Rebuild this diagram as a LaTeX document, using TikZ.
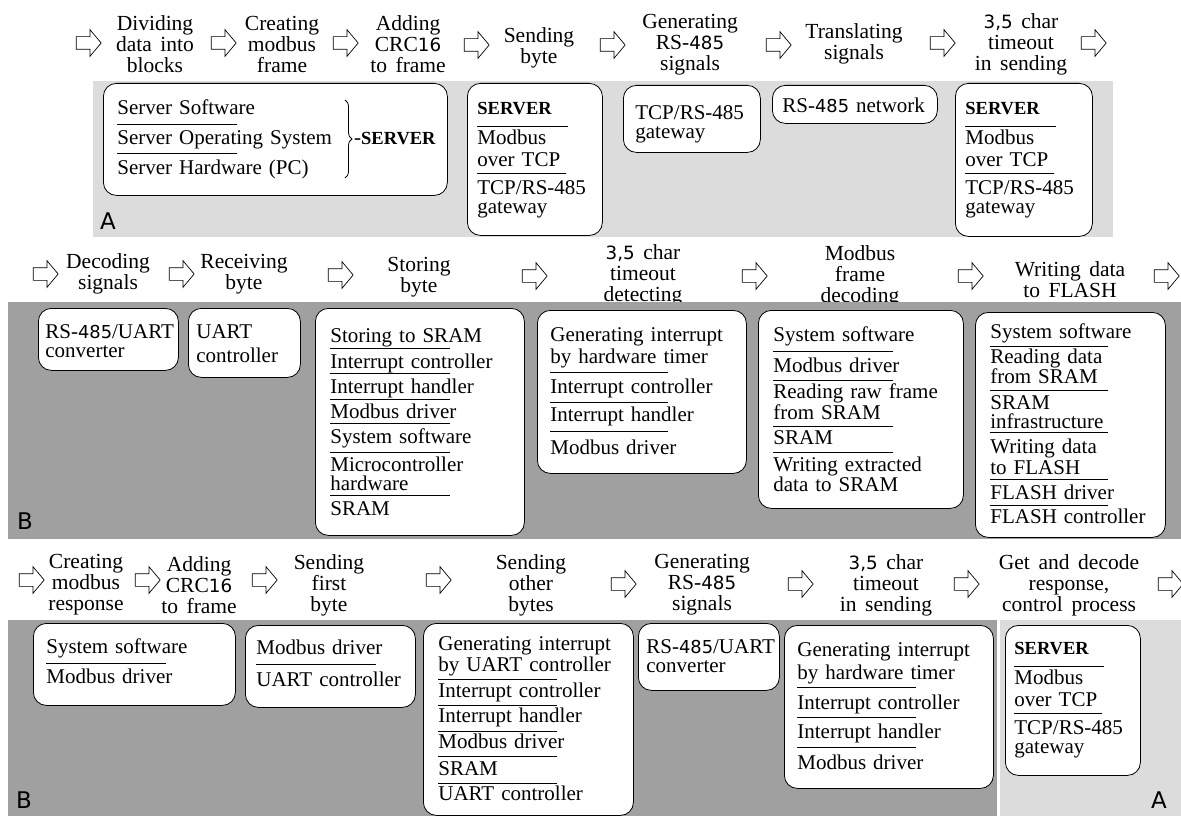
\documentclass[tikz,border=0pt]{standalone}
\usepackage{fontspec}
\setmainfont{Liberation Serif}[WordSpace=1.6]
\setsansfont{DejaVu Sans}[Scale=0.85]
\usepackage{tikz}
\usetikzlibrary{shapes.arrows, decorations.pathreplacing}
\definecolor{dotgray}{HTML}{DCDCDC}
\definecolor{midgray}{HTML}{A0A0A0}
\newcommand{\ul}[2][7]{\leavevmode\smash{\rlap{\rule[-#1pt]{#2pt}{0.7pt}}}}
\newcommand{\sn}[1]{{\sffamily #1}}
\newcommand{\srv}{{\fontsize{18.5}{20}\selectfont\bfseries SERVER}}
\newcommand{\nobrk}{\rightskip=0pt plus 1fil minus 200pt\relax}

\tikzset{
  flow/.style={single arrow, draw, fill=white, line width=0.7pt, minimum height=25pt,
    inner sep=6pt, single arrow head extend=7pt, single arrow tip angle=100},
  lbl/.style={align=center, inner sep=0pt, font=\fontsize{21.5}{21}\selectfont},
  box/.style={draw, fill=white, line width=0.8pt, rounded corners=13pt, anchor=north west,
    align=left, inner ysep=0pt, font=\fontsize{21}{20}\selectfont, execute at begin node=\nobrk},
  brc/.style={decorate, decoration={brace, amplitude=7pt}, line width=0.8pt},
  tag/.style={inner sep=0pt, font=\sffamily\fontsize{27}{27}\selectfont}
}

\begin{document}
\begin{tikzpicture}[x=1pt, y=-1pt]
\useasboundingbox (0,0) rectangle (1181,816);

\node[lbl] (dividing) at (155,44) {Dividing\\data into\\blocks};
\node[lbl] (creating) at (282,44) {Creating\\modbus\\frame};
\node[lbl] (adding) at (408,44) {Adding\\CRC\sn{16}\\to frame};
\node[lbl] (sending) at (539,48) {Sending\\byte};
\node[lbl] (generating) at (690,45) {Generating\\RS-\sn{485}\\signals};
\node[lbl] (translating) at (854,44) {Translating\\signals};
\node[lbl] (timeout) at (1021,44) {\sn{3,5} char\\timeout\\in sending};

\node[lbl] (decoding) at (108,274) {Decoding\\signals};
\node[lbl] (receiving) at (244,274) {Receiving\\byte};
\node[lbl] (storing) at (419,277) {Storing\\byte};
\node[lbl] (detecting) at (643,275) {\sn{3,5} char\\timeout\\detecting};
\node[lbl] (framedec) at (860,276) {Modbus\\frame\\decoding};
\node[lbl] (writing) at (1070,280) {Writing data\\to FLASH};

\node[lbl] (response) at (86,585) {Creating\\modbus\\response};
\node[lbl] (addingb) at (199,585) {Adding\\CRC\sn{16}\\to frame};
\node[lbl] (firstbyte) at (329,585) {Sending\\first\\byte};
\node[lbl] (otherbytes) at (531,585) {Sending\\other\\bytes};
\node[lbl] (generatingb) at (702,585) {Generating\\RS-\sn{485}\\signals};
\node[lbl] (timeoutb) at (886,585) {\sn{3,5} char\\timeout\\in sending};
\node[lbl] (getdecode) at (1069,585) {Get and decode\\response,\\control process};

\node[flow] (p1) at (86,43) {};
\node[flow] (p2) at (221,43) {};
\node[flow] (p3) at (343,43) {};
\node[flow] (p4) at (474,45) {};
\node[flow] (p5) at (610,45) {};
\node[flow] (p6) at (776,45) {};
\node[flow] (p7) at (940,43) {};
\node[flow] (p8) at (1091,43) {};

\node[flow] (q1) at (43,274) {};
\node[flow] (q2) at (179,274) {};
\node[flow] (q3) at (338,275) {};
\node[flow] (q4) at (532,276) {};
\node[flow] (q5) at (752,276) {};
\node[flow] (q6) at (968,276) {};
\node[flow] (q7) at (1164,276) {};

\node[flow] (r1) at (29,580) {};
\node[flow] (r2) at (145,580) {};
\node[flow] (r3) at (262,580) {};
\node[flow] (r4) at (436,580) {};
\node[flow] (r5) at (621,584) {};
\node[flow] (r6) at (798,584) {};
\node[flow] (r7) at (964,584) {};
\node[flow] (r8) at (1168,584) {};

\fill[dotgray] (93,81) rectangle (1113,237);
\fill[midgray] (8,302) rectangle (1181,539);
\fill[midgray] (8,620) rectangle (997,816);
\fill[dotgray] (1000,620) rectangle (1181,816);

\node[box, inner xsep=14pt, text width=316pt, text height=31pt, text depth=81pt] (srvstack) at (103,83) {
  \ul[10]{120}Server Software\\[10pt]
  \ul[9]{120}Server Operating System\\[10pt]
  Server Hardware (PC)};
\coordinate (brtop) at (345,100);
\coordinate (brbot) at (345,178);
\draw[brc] (brtop) -- (brbot);
\node[anchor=west, inner sep=0pt, font=\fontsize{21}{20}\selectfont] (srvtag) at (354,139) {-\srv};

\node[box, inner xsep=10pt, text width=115pt, text height=31pt, text depth=121pt] (server1) at (467,83) {
  \ul[12]{91}\srv\\[10pt]
  Modbus\\[2pt]
  \ul[7]{89}over TCP\\[8pt]
  TCP/RS-485\\[-1pt]
  gateway};
\node[box, inner xsep=12pt, text width=113pt, text height=34pt, text depth=33pt] (gateway1) at (623,85) {
  TCP/RS-485\\[-1pt]
  gateway};
\node[box, inner xsep=10pt, text width=145pt, text height=27pt, text depth=11pt] (network) at (772,85) {
  RS-\sn{485} network};
\node[box, inner xsep=10pt, text width=117pt, text height=31pt, text depth=122pt] (server2) at (955,83) {
  \ul[12]{91}\srv\\[10pt]
  Modbus\\[2pt]
  \ul[7]{89}over TCP\\[8pt]
  TCP/RS-485\\[-1pt]
  gateway};
\node[tag] (tagA1) at (108,221) {A};

\node[box, inner xsep=7pt, text width=126pt, text height=30pt, text depth=32pt] (conv1) at (38,308) {
  RS-\sn{485}/UART\\[-1pt]
  converter};
\node[box, inner xsep=8pt, text width=96pt, text height=30pt, text depth=39pt] (uart1) at (188,308) {
  UART\\[4pt]
  controller};
\node[box, inner xsep=15pt, text width=179pt, text height=34pt, text depth=193pt] (store) at (315,308) {
  \ul[6]{120}Storing to SRAM\\[6pt]
  \ul[5]{120}Interrupt controller\\[5pt]
  \ul[6]{120}Interrupt handler\\[5pt]
  \ul[5]{120}Modbus driver\\[5pt]
  \ul[9]{120}System software\\[8pt]
  Microcontroller\\[-1pt]
  \ul[5]{120}hardware\\[5pt]
  SRAM};
\node[box, inner xsep=13pt, text width=183pt, text height=31pt, text depth=132pt] (detect) at (537,310) {
  Generating interrupt\\[2pt]
  \ul[9]{118}by hardware timer\\[10pt]
  \ul[9]{118}Interrupt controller\\[8pt]
  \ul[10]{118}Interrupt handler\\[13pt]
  Modbus driver};
\node[box, inner xsep=15pt, text width=175pt, text height=31pt, text depth=167pt] (decode) at (758,310) {
  \ul[10]{120}System software\\[11pt]
  \ul[8]{120}Modbus driver\\[6pt]
  Reading raw frame\\[1pt]
  \ul[7]{120}from SRAM\\[5pt]
  \ul[8]{120}SRAM\\[7pt]
  Writing extracted\\
  data to SRAM};
\node[box, inner xsep=15pt, text width=160pt, text height=26pt, text depth=199pt] (flash) at (975,312) {
  \ul[8]{118}System software\\[5pt]
  Reading data\\
  \ul[7]{118}from SRAM\\[6pt]
  SRAM\\[-1pt]
  \ul[4]{118}infrastructure\\[5pt]
  Writing data\\[1pt]
  \ul[5]{118}to FLASH\\[5pt]
  \ul[6]{118}FLASH driver\\[4pt]
  FLASH controller};
\node[tag] (tagB2) at (25,521) {B};

\node[box, inner xsep=13pt, text width=176pt, text height=30pt, text depth=52pt] (syssw) at (33,623) {
  \ul[10]{120}System software\\[10pt]
  Modbus driver};
\node[box, inner xsep=11pt, text width=148pt, text height=29pt, text depth=53pt] (mbuart) at (245,625) {
  \ul[10]{120}Modbus driver\\[12pt]
  UART controller};
\node[box, inner xsep=15pt, text width=180pt, text height=27pt, text depth=165pt] (uartint) at (423,623) {
  Generating interrupt\\[1pt]
  \ul[8]{119}by UART controller\\[6pt]
  \ul[8]{119}Interrupt controller\\[5pt]
  \ul[9]{119}Interrupt handler\\[6pt]
  \ul[8]{119}Modbus driver\\[7pt]
  \ul[8]{119}SRAM\\[5pt]
  UART controller};
\node[box, inner xsep=8pt, text width=125pt, text height=30pt, text depth=37pt] (conv3) at (638,623) {
  RS-\sn{485}/UART\\[-1pt]
  converter};
\node[box, inner xsep=13pt, text width=183pt, text height=31pt, text depth=132pt] (timer3) at (784,625) {
  Generating interrupt\\[3pt]
  \ul[8]{119}by hardware timer\\[10pt]
  \ul[8]{119}Interrupt controller\\[9pt]
  \ul[9]{119}Interrupt handler\\[11pt]
  Modbus driver};
\node[box, inner xsep=9pt, text width=117pt, text height=29pt, text depth=121pt] (server3) at (1005,625) {
  \ul[12]{90}\srv\\[10pt]
  Modbus\\[2pt]
  \ul[7]{88}over TCP\\[8pt]
  TCP/RS-485\\[-1pt]
  gateway};
\node[tag] (tagB3) at (24,800) {B};
\node[tag] (tagA3) at (1159,800) {A};
\end{tikzpicture}
\end{document}
